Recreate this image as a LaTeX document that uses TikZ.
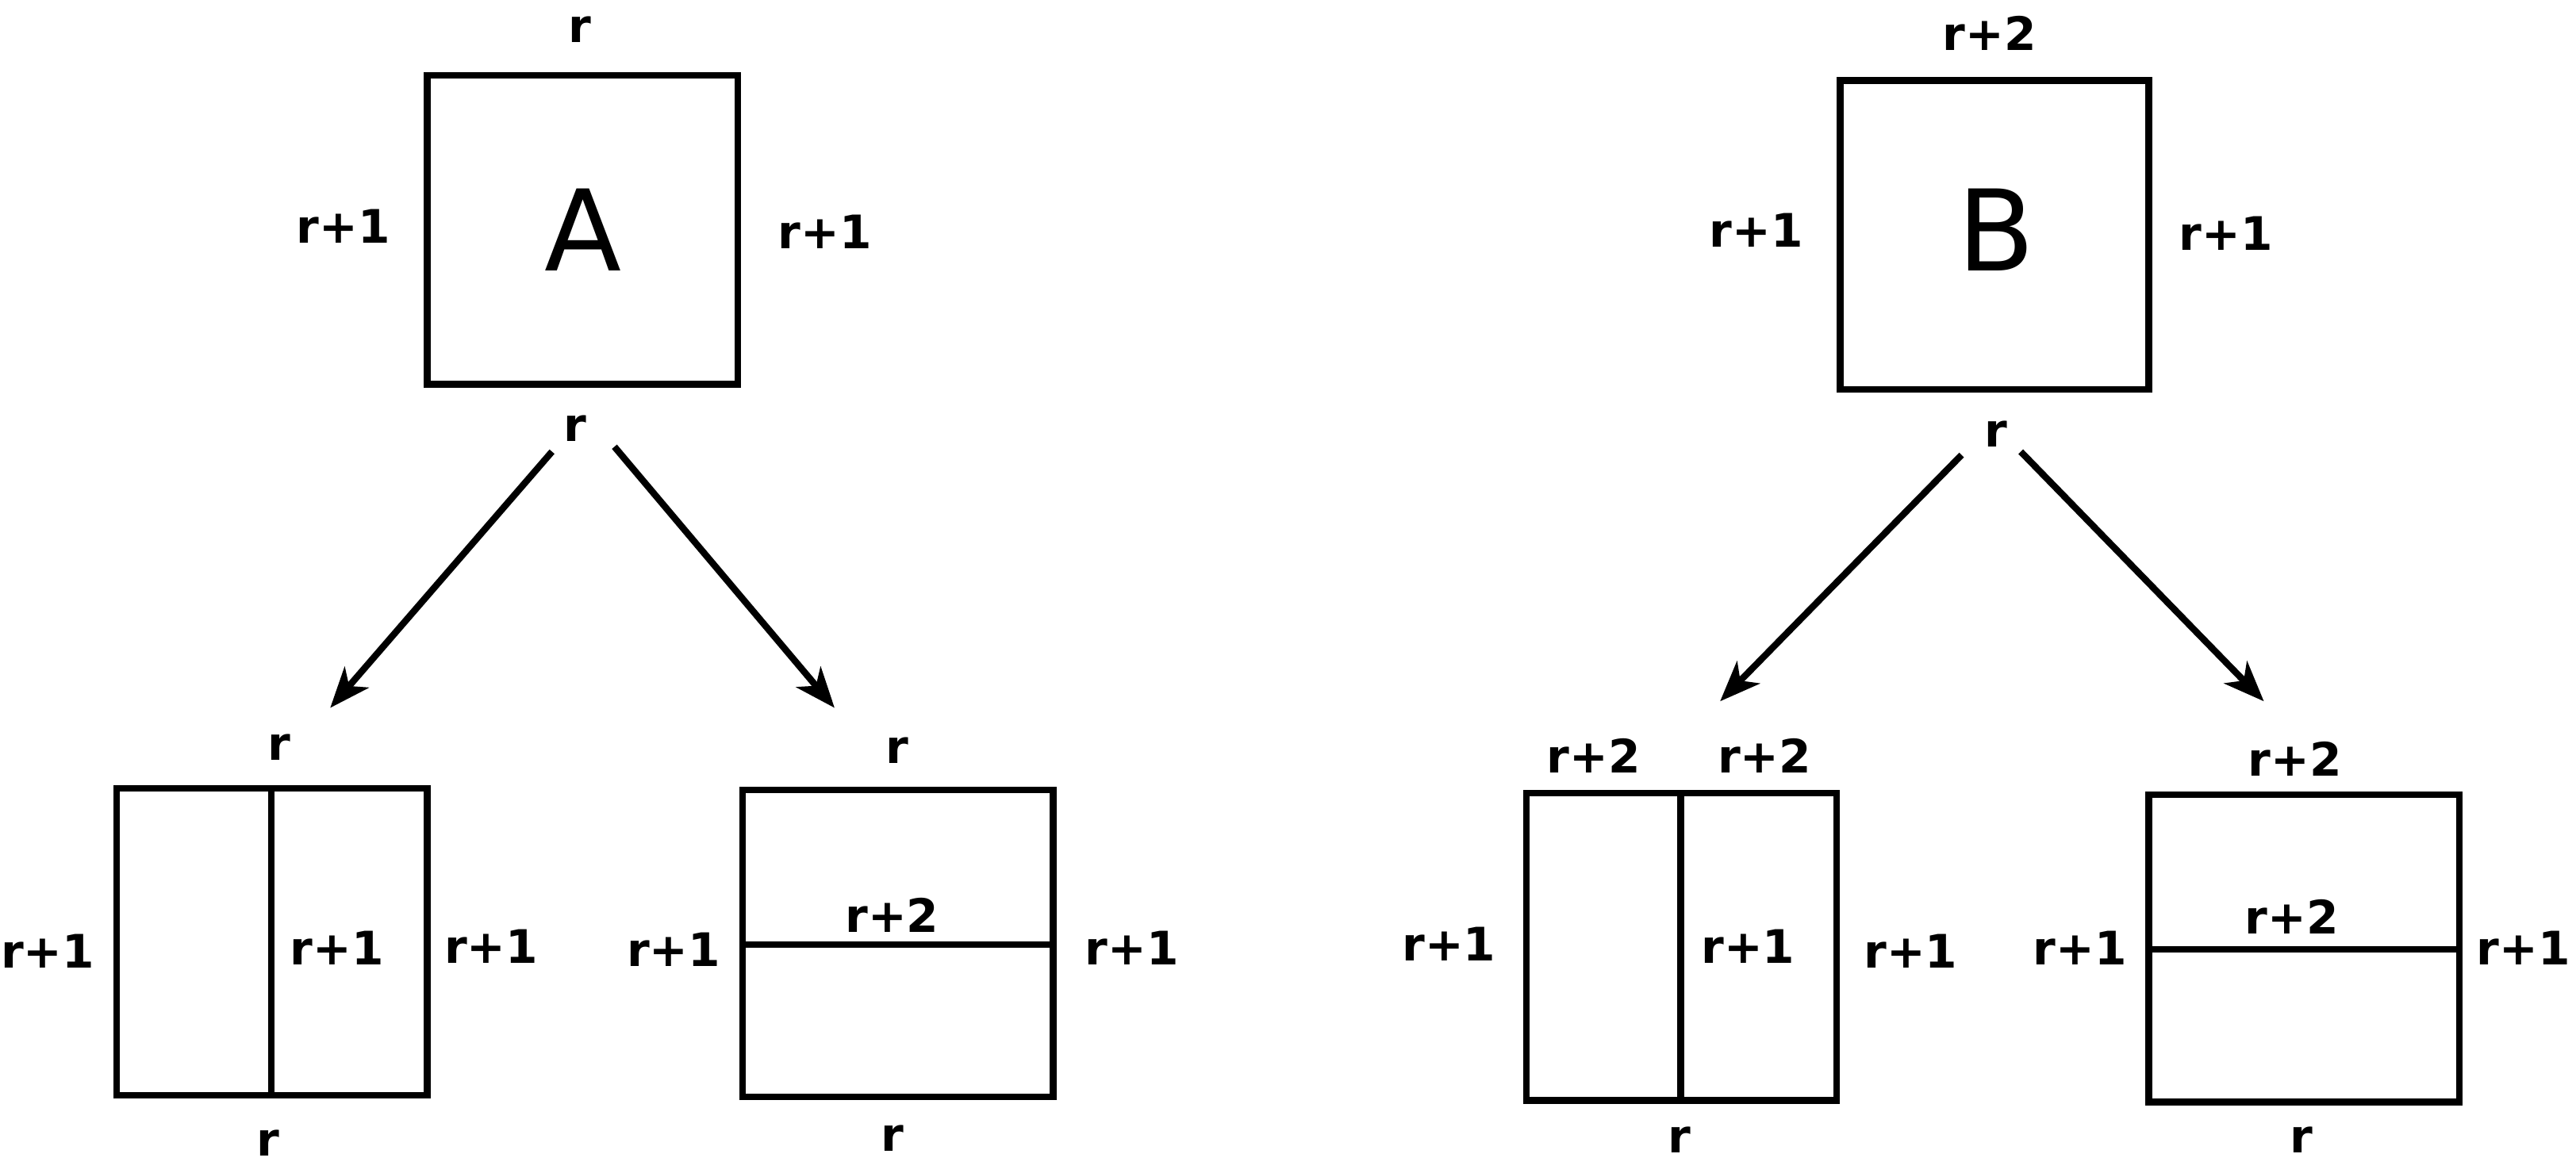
\documentclass[tikz,border=0pt]{standalone}
\usepackage{fontspec}
\setmainfont{DejaVu Sans}
\usetikzlibrary{arrows.meta}
\begin{document}
\begin{tikzpicture}[x=0.02cm,y=-0.02cm,
  lbl/.style={font=\fontsize{16}{18}\selectfont\bfseries,inner sep=0},
  big/.style={font=\fontsize{39}{42}\selectfont,inner sep=0},
  ln/.style={line width=2.3pt},
  arr/.style={ln,-{Stealth[length=14pt,width=11pt,inset=4pt]}}]
\useasboundingbox (0,0) rectangle (1568,714);
% A
\draw[ln] (260,46) rectangle (449,234);
\node[big] (A) at (355,140) {A};
\node[lbl] (a1) at (353,18) {r};
\node[lbl] (a2) at (209,138) {r+1};
\node[lbl] (a3) at (502,141) {r+1};
\node[lbl] (a4) at (350,261) {r};
\coordinate (as1) at (336,275); \coordinate (ae1) at (201,431);
\coordinate (as2) at (374,272); \coordinate (ae2) at (508,431);
\draw[arr] (as1) -- (ae1);
\draw[arr] (as2) -- (ae2);
% box 1
\draw[ln] (71,480) rectangle (260,667);
\draw[ln] (165,480) -- (165,667);
\node[lbl] at (170,455) {r};
\node[lbl] at (29,579) {r+1};
\node[lbl] at (205,577) {r+1};
\node[lbl] at (299,576) {r+1};
\node[lbl] at (163,696) {r};
% box 2
\draw[ln] (452,481) rectangle (641,668);
\draw[ln] (452,575) -- (641,575);
\node[lbl] at (546,457) {r};
\node[lbl] at (543,557) {r+2};
\node[lbl] at (410,578) {r+1};
\node[lbl] at (689,577) {r+1};
\node[lbl] at (543,693) {r};
% B
\draw[ln] (1120,49) rectangle (1308,237);
\node[big] (B) at (1215,140) {B};
\node[lbl] at (1211,20) {r+2};
\node[lbl] at (1069,140) {r+1};
\node[lbl] at (1355,142) {r+1};
\node[lbl] at (1215,264) {r};
\coordinate (bs1) at (1194,277); \coordinate (be1) at (1047,427);
\coordinate (bs2) at (1230,275); \coordinate (be2) at (1378,427);
\draw[arr] (bs1) -- (be1);
\draw[arr] (bs2) -- (be2);
% box 3
\draw[ln] (929,483) rectangle (1118,670);
\draw[ln] (1023,483) -- (1023,670);
\node[lbl] at (970,460) {r+2};
\node[lbl] at (1074,460) {r+2};
\node[lbl] at (882,575) {r+1};
\node[lbl] at (1064,576) {r+1};
\node[lbl] at (1163,579) {r+1};
\node[lbl] at (1022,694) {r};
% box 4
\draw[ln] (1308,484) rectangle (1497,671);
\draw[ln] (1308,578) -- (1497,578);
\node[lbl] at (1397,462) {r+2};
\node[lbl] at (1395,558) {r+2};
\node[lbl] at (1266,577) {r+1};
\node[lbl] at (1536,577) {r+1};
\node[lbl] at (1401,694) {r};
\end{tikzpicture}
\end{document}
